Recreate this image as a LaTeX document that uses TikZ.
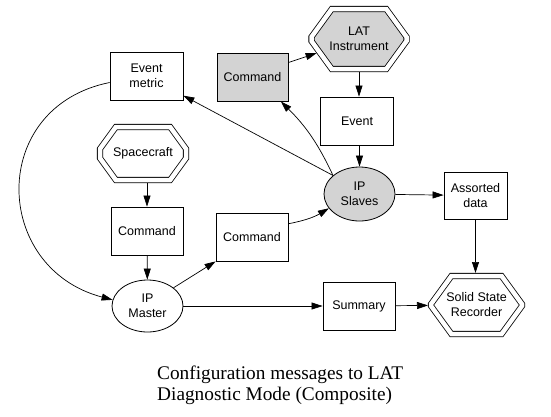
\documentclass[tikz,border=0pt]{standalone}
\usepackage{fontspec}
\setmainfont{Liberation Serif}
\setsansfont{Liberation Sans}
\usetikzlibrary{arrows.meta,shapes.misc,shapes.geometric}
\definecolor{Gc}{RGB}{211,211,211}
\tikzset{
  blk/.style={rectangle,draw=black,line width=0.8pt,inner sep=0pt,
              minimum width=72pt,minimum height=48pt,
              font=\sffamily\fontsize{12.5}{15}\selectfont,align=center},
  blkg/.style={blk,fill=Gc},
  ovl/.style={ellipse,draw=black,line width=0.8pt,inner sep=0pt,
              minimum width=71pt,minimum height=53pt,
              font=\sffamily\fontsize{12.5}{15}\selectfont,align=center},
  ovlg/.style={ovl,fill=Gc},
  octo/.style={chamfered rectangle,chamfered rectangle angle=36,
               chamfered rectangle xsep=22pt,chamfered rectangle ysep=16pt,
               draw=black,line width=0.8pt,
               double,double distance=4.5pt,inner sep=0pt,
               font=\sffamily\fontsize{12.5}{15}\selectfont,align=center},
  octog/.style={octo,fill=Gc},
  flow/.style={-{Triangle[length=11pt,width=7pt]},line width=0.7pt},
  capn/.style={font=\rmfamily\fontsize{19.3}{21}\selectfont,align=left,inner sep=0pt},
}
\begin{document}
\begin{tikzpicture}[x=1pt,y=-1pt]
  \useasboundingbox (0,0) rectangle (551,416);
  % top row
  \node[blk,minimum width=73pt] (evm) at (146.5,76) {Event\\metric};
  \node[blkg,minimum width=71pt] (cmdg) at (252.5,77) {Command};
  \node[octog,minimum width=95pt,minimum height=60pt] (lat) at (359,39) {LAT\\Instrument};
  \node[blk,minimum width=73pt] (evt) at (357,121) {Event};
  % middle
  \node[octo,minimum width=86pt,minimum height=53pt] (scft) at (143,153.5) {Spacecraft};
  \node[ovlg,minimum height=54pt] (ips) at (359.5,194) {IP\\Slaves};
  \node[blk,minimum width=63pt,minimum height=47pt] (asd) at (475.5,195.5) {Assorted\\data};
  \node[blk] (cmdl) at (147,231) {Command};
  \node[blk] (cmdm) at (252,237) {Command};
  % bottom row
  \node[ovl,minimum height=52pt] (ipm) at (147.5,306) {IP\\Master};
  \node[blk] (sum) at (359,306) {Summary};
  \node[octo,minimum width=91pt,minimum height=58pt] (ssr) at (476.5,305) {Solid State\\Recorder};
  \node[capn,anchor=north west] (ttl) at (157,366) {Configuration messages to LAT\\Diagnostic Mode (Composite)};
  % edges
  \draw[flow,shorten >=2.6pt] (cmdg.22) -- (lat);
  \draw[flow,shorten <=2.6pt] (lat.south) -- (lat.south |- evt.north);
  \draw[flow] (ips |- evt.south) -- (ips);
  \draw[flow] (ips.145) -- (evm);
  \draw[flow] (ips.145) to[bend right=10] (cmdg);
  \draw[flow] (ips) -- (asd);
  \draw[flow,shorten >=2.6pt] (asd) -- (asd |- ssr.north);
  \draw[flow,shorten <=2.6pt] (cmdl |- scft.south) -- (cmdl);
  \draw[flow] (cmdl) -- (ipm);
  \draw[flow] (ipm.35) -- (cmdm.south west);
  \draw[flow] (cmdm.20) to[bend right=10] (ips.205);
  \draw[flow] (ipm) -- (sum);
  \draw[flow,shorten >=2.6pt] (sum) -- (ssr);
  \draw[flow] (evm.190) .. controls (-12,107) and (-8,268) .. (ipm.170);
\end{tikzpicture}
\end{document}
